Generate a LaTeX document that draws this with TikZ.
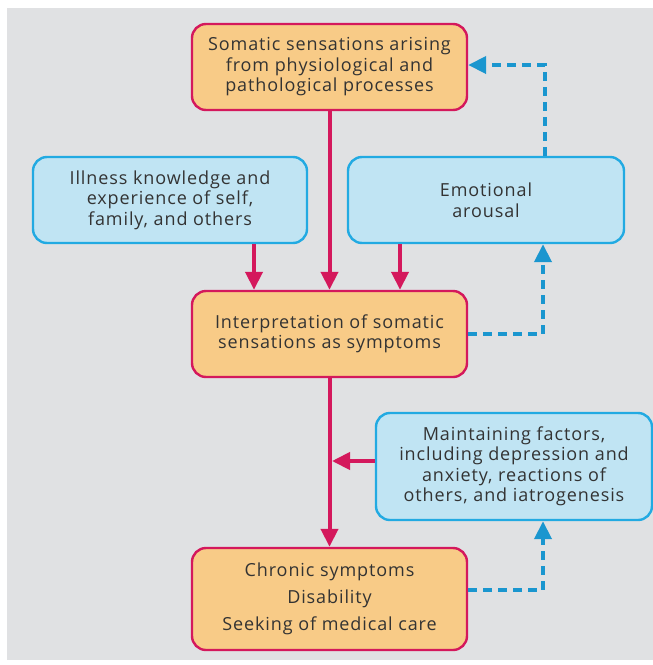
\documentclass[tikz,border=0pt]{standalone}
\usepackage{fontspec}
\setmainfont{Open Sans}[LetterSpace=5]
\usetikzlibrary{arrows.meta}
\definecolor{bg}{HTML}{E0E1E3}
\definecolor{ofill}{HTML}{F8CB87}
\definecolor{oline}{HTML}{D4185C}
\definecolor{bfill}{HTML}{C0E4F3}
\definecolor{bline}{HTML}{22AAE2}
\definecolor{darrow}{HTML}{1A96CF}
\definecolor{txt}{HTML}{333333}
\tikzset{
  box/.style={rounded corners=14pt, line width=2.4pt, align=center, text=txt,
    font=\fontsize{18}{20.5}\selectfont, inner sep=0pt},
  obox/.style={box, draw=oline, fill=ofill},
  bbox/.style={box, draw=bline, fill=bfill},
  solidarr/.style={draw=oline, line width=4pt, -{Triangle[length=18pt,width=17pt]}},
  dasharr/.style={draw=darrow, line width=4pt, dash pattern=on 9pt off 6pt,
    -{Triangle[length=18pt,width=17pt]}},
}
\begin{document}
\begin{tikzpicture}[x=1pt,y=-1pt]
\useasboundingbox (0,0) rectangle (653,665);
\fill[white] (0,0) rectangle (653,665);
\fill[bg] (7,8) rectangle (653,660);
\node[obox, minimum width=275pt, minimum height=86pt] (som) at (329.5,67) {Somatic sensations arising\\from physiological and\\pathological processes};
\node[bbox, minimum width=274pt, minimum height=86pt] (ill) at (170,200) {Illness knowledge and\\experience of self,\\family, and others};
\node[bbox, minimum width=276pt, minimum height=86pt] (emo) at (486,200) {Emotional\\arousal};
\node[obox, minimum width=275pt, minimum height=86pt] (int) at (329.5,334) {Interpretation of somatic\\sensations as symptoms};
\node[bbox, minimum width=276pt, minimum height=107pt] (mai) at (514,466.5) {Maintaining factors,\\including depression and\\anxiety, reactions of\\others, and iatrogenesis};
\node[obox, minimum width=275pt, minimum height=102pt] (chr) at (329.5,599) {Chronic symptoms\\[6.5pt]Disability\\[6.5pt]Seeking of medical care};
\coordinate (j) at (330,461);
\draw[solidarr] (som.south) -- (int.north);
\draw[solidarr] (ill.south -| 254,0) -- (int.north -| 254,0);
\draw[solidarr] (emo.south -| 400,0) -- (int.north -| 400,0);
\draw[solidarr] (int.south) -- (chr.north);
\draw[solidarr] (mai.west |- j) -- ([xshift=2pt]j);
\draw[dasharr] (int.east) -- (543,334) -- (emo.south -| 543,0);
\draw[dasharr] (emo.north -| 545,0) -- (545,65) -- (som.east |- 0,65);
\draw[dasharr] (chr.east |- 0,590) -- (543,590) -- (mai.south -| 543,0);
\end{tikzpicture}
\end{document}
